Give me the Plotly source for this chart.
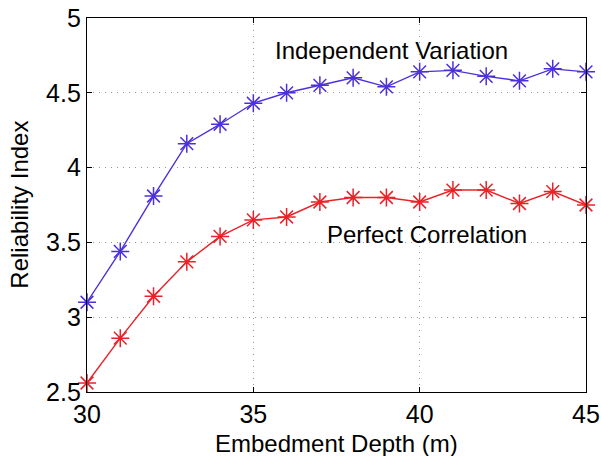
import plotly.graph_objects as go

depth = [30, 31, 32, 33, 34, 35, 36, 37, 38, 39, 40, 41, 42, 43, 44, 45]
independent = [3.10, 3.44, 3.81, 4.16, 4.29, 4.43, 4.50, 4.55, 4.60, 4.54, 4.64, 4.65, 4.61, 4.58, 4.66, 4.64]
perfect = [2.56, 2.86, 3.14, 3.37, 3.54, 3.65, 3.67, 3.77, 3.80, 3.80, 3.77, 3.85, 3.85, 3.76, 3.84, 3.75]

x_ticks = [30, 35, 40, 45]
y_ticks = [2.5, 3, 3.5, 4, 4.5, 5]
y_tick_text = ["2.5", "3", "3.5", "4", "4.5", "5"]

blue = "#4d30dd"
red = "#ea2228"
font = "Liberation Sans, Arial, sans-serif"
fs = 24
tfs = 25

fig = go.Figure()
fig.add_trace(go.Scatter(
    x=depth, y=independent, mode="lines+markers",
    line=dict(color=blue, width=1.4),
    marker=dict(symbol="asterisk-open", size=15, line=dict(color=blue, width=1.5)),
    name="Independent Variation", cliponaxis=False,
))
fig.add_trace(go.Scatter(
    x=depth, y=perfect, mode="lines+markers",
    line=dict(color=red, width=1.4),
    marker=dict(symbol="asterisk-open", size=15, line=dict(color=red, width=1.5)),
    name="Perfect Correlation", cliponaxis=False,
))

fig.add_annotation(x=39.14, y=4.78, text="Independent Variation", showarrow=False,
                   font=dict(family=font, size=fs, color="black"))
fig.add_annotation(x=40.23, y=3.55, text="Perfect Correlation", showarrow=False,
                   font=dict(family=font, size=fs, color="black"))
fig.add_annotation(xref="paper", yref="paper", x=0.5, y=-0.138, yanchor="middle",
                   text="Embedment Depth (m)", showarrow=False,
                   font=dict(family=font, size=fs, color="black"))
fig.add_annotation(xref="paper", yref="paper", x=-0.137, y=0.5, xanchor="center",
                   text="Reliability Index", showarrow=False, textangle=-90,
                   font=dict(family=font, size=fs, color="black"))

axis_common = dict(
    showline=True, linecolor="black", linewidth=1.4, mirror="ticks",
    ticks="inside", ticklen=5, tickcolor="black", tickwidth=1,
    showgrid=True, gridcolor="#999999", griddash="1px,5px", gridwidth=1,
    zeroline=False, automargin=False,
    tickfont=dict(family=font, size=tfs, color="black"),
)

fig.update_xaxes(range=[30, 45], tickvals=x_ticks, **axis_common)
fig.update_yaxes(range=[2.5, 5], tickvals=y_ticks, ticktext=y_tick_text, **axis_common)

fig.update_layout(
    width=601, height=456,
    margin=dict(l=87, r=15, t=18, b=64),
    paper_bgcolor="white", plot_bgcolor="white",
    showlegend=False,
)

fig.write_html("out.html")
